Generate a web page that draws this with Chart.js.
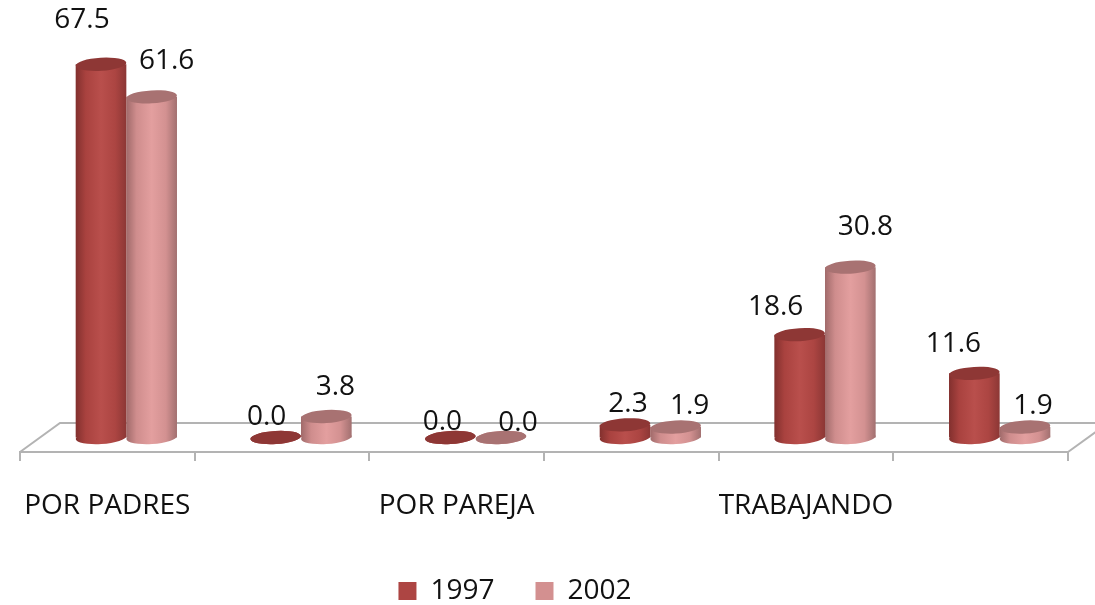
<!DOCTYPE html>
<html>
<head>
<meta charset="utf-8">
<style>html,body{margin:0;padding:0;background:#fff}canvas{display:block}</style>
<script src="https://cdn.jsdelivr.net/npm/chart.js@4/dist/chart.umd.min.js"></script>
</head>
<body>
<canvas id="c" width="1095" height="605"></canvas>
<script>
const categories = ['POR PADRES', '', 'POR PAREJA', '', 'TRABAJANDO', ''];
const values1997 = [67.5, 0.0, 0.0, 2.3, 18.6, 11.6];
const values2002 = [61.6, 3.8, 0.0, 1.9, 30.8, 1.9];
const seriesNames = ['1997', '2002'];

// hand placement of the value labels, as in the reference: [dx from bar centre, dy from bar top]
const labelNudge1997 = [[-19,-44],[-9,-20],[-8,-15],[3,-21],[-24,-28],[-21,-29]];
const labelNudge2002 = [[15,-36],[9,-29],[17,-14],[14,-21],[15,-40],[8,-21]];

const FONT = '"Open Sans", sans-serif';
const FS = 28, INK = '#111111', FLOOR = '#b3b3b3';
const BAR_SHIFT = 19, FLOOR_DX = 40, FLOOR_DY = 29, RY = 6.5, TILT = -0.06;
const BAND = 0.58;

const palette = [
  {legend:'#ad4543', top:'#8e3735', stops:['#82302e','#a9423f','#b94f4c','#ac4542','#8c3735']},
  {legend:'#d39090', top:'#a87272', stops:['#a06a6a','#cf8d8d','#e39f9f','#d39191','#a27070']}
];

function sideGradient(ctx, left, width, stops){
  const g = ctx.createLinearGradient(left, 0, left + width, 0);
  [0, .2, .5, .78, 1].forEach((p, i) => g.addColorStop(p, stops[i]));
  return g;
}
function barGeom(chart, ds, i){
  const s = chart.scales.x;
  const w = (s.width / categories.length) * BAND / 2;
  const centre = s.getPixelForValue(i);
  return {left: centre - w + ds * w, width: w};
}
function scriptedFill(ds){
  return c => {
    if (c.dataIndex === undefined || !c.chart.scales.x) return palette[ds].legend;
    const g = barGeom(c.chart, ds, c.dataIndex);
    return sideGradient(c.chart.ctx, g.left, g.width, palette[ds].stops);
  };
}

const cylinders = {
  id: 'cylinders',
  afterLayout(chart){
    const lg = chart.legend;
    lg.left -= 29; lg.right -= 29;
    lg.top = 605 - lg.height + 10;
  },
  beforeDatasetsDraw(chart){
    const {ctx, chartArea:a} = chart;
    ctx.save();
    ctx.strokeStyle = FLOOR; ctx.lineWidth = 2;
    ctx.beginPath();
    ctx.moveTo(a.left, a.bottom);
    ctx.lineTo(a.left + FLOOR_DX, a.bottom - FLOOR_DY);
    ctx.lineTo(chart.width, a.bottom - FLOOR_DY);
    ctx.moveTo(a.right, a.bottom);
    ctx.lineTo(a.right + FLOOR_DX, a.bottom - FLOOR_DY);
    ctx.stroke();
    ctx.restore();
    // cylinder bases, then bars are pushed back into the floor's depth
    ctx.save();
    ctx.translate(BAR_SHIFT, 0);
    [1, 0].forEach(ds => chart.getDatasetMeta(ds).data.forEach((bar, i) => {
      const g = barGeom(chart, ds, i);
      ctx.fillStyle = sideGradient(ctx, g.left, g.width, palette[ds].stops);
      ctx.beginPath();
      ctx.ellipse(bar.x, bar.base, g.width / 2, RY, TILT, 0, Math.PI * 2);
      ctx.fill();
    }));
  },
  afterDatasetsDraw(chart){
    const {ctx} = chart;
    [1, 0].forEach(ds => chart.getDatasetMeta(ds).data.forEach((bar, i) => {
      const g = barGeom(chart, ds, i);
      ctx.fillStyle = palette[ds].top;
      ctx.beginPath();
      ctx.ellipse(bar.x, bar.y, g.width / 2, RY, TILT, 0, Math.PI * 2);
      ctx.fill();
    }));
    ctx.fillStyle = INK;
    ctx.font = FS + 'px ' + FONT;
    ctx.textAlign = 'center';
    ctx.textBaseline = 'middle';
    const nudges = [labelNudge1997, labelNudge2002];
    [0, 1].forEach(ds => chart.getDatasetMeta(ds).data.forEach((bar, i) => {
      const v = chart.data.datasets[ds].data[i];
      const [dx, dy] = nudges[ds][i];
      ctx.fillText(v.toFixed(1), bar.x + dx, bar.y + dy);
    }));
    ctx.restore();
  }
};

new Chart(document.getElementById('c'), {
  type: 'bar',
  plugins: [cylinders],
  data: {
    labels: categories,
    datasets: [
      {label: seriesNames[0], data: values1997, backgroundColor: scriptedFill(0), borderWidth: 0},
      {label: seriesNames[1], data: values2002, backgroundColor: scriptedFill(1), borderWidth: 0}
    ]
  },
  options: {
    responsive: false,
    animation: false,
    events: [],
    clip: false,
    categoryPercentage: BAND,
    barPercentage: 1,
    layout: {padding: {left: 20, right: 27, top: 8, bottom: 0}},
    scales: {
      y: {display: false, min: -2.62, max: 77.67},
      x: {
        offset: true,
        afterFit(s){
          s.height = 605 - 452 - s.chart.legend.height;
          s.paddingLeft = 0; s.paddingRight = 0;
        },
        border: {color: FLOOR, width: 2},
        grid: {offset: true, drawOnChartArea: false, drawTicks: true, tickLength: 9, color: FLOOR, lineWidth: 2},
        ticks: {
          autoSkip: false, maxRotation: 0, minRotation: 0, padding: 28,
          color: INK, font: {family: FONT, size: FS}
        }
      }
    },
    plugins: {
      tooltip: {enabled: false},
      legend: {
        position: 'bottom',
        labels: {
          boxWidth: 18, boxHeight: 18, padding: 41,
          color: INK, font: {family: FONT, size: FS},
          generateLabels: chart => chart.data.datasets.map((d, i) => ({
            text: d.label, fillStyle: palette[i].legend, strokeStyle: palette[i].legend,
            lineWidth: 0, datasetIndex: i, fontColor: INK
          }))
        }
      }
    }
  }
});
</script>
</body>
</html>
